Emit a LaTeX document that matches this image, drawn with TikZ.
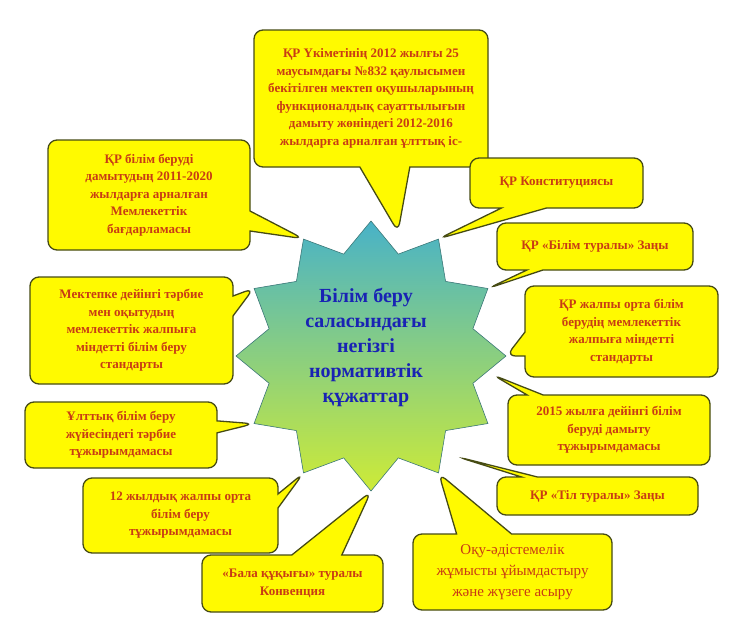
\documentclass[tikz,border=0pt]{standalone}
\usepackage{fontspec}
\setmainfont{Liberation Serif}
\usetikzlibrary{shapes.geometric, shapes.callouts}
\definecolor{boxfill}{RGB}{255,250,0}
\definecolor{boxline}{RGB}{70,75,20}
\definecolor{textred}{RGB}{200,60,20}
\definecolor{titleblue}{RGB}{25,35,180}
\definecolor{startop}{RGB}{72,178,200}
\definecolor{starmid}{RGB}{130,210,150}
\definecolor{starbottom}{RGB}{205,235,55}
\definecolor{staredge}{RGB}{60,120,120}

\begin{document}
\begin{tikzpicture}[x=1pt,y=-1pt,
box/.style={rectangle callout,draw=boxline,line width=1.3pt,fill=boxfill,rounded corners=9pt,
align=center,text=textred,font=\bfseries\fontsize{13}{17.5}\selectfont,inner sep=2pt,
callout pointer width=20pt},
main node/.style={star,star points=12,star point ratio=1.28,minimum size=270pt,inner sep=0pt,
draw=staredge,line width=0.6pt,top color=startop,middle color=starmid,bottom color=starbottom}]
\useasboundingbox (0,0) rectangle (740,638);
\node[main node] (star) at (371,356) {};
\node[text=titleblue,align=center,font=\bfseries\fontsize{20}{25}\selectfont] (title) at (366,347)
{Білім беру\\саласындағы\\негізгі\\нормативтік\\құжаттар};
\coordinate (t1) at (398,232);
\coordinate (t11) at (493,375);
\coordinate (t12) at (458,457);
\node[box,minimum width=234pt,minimum height=137pt,callout absolute pointer={(t1)},callout pointer width=50pt] (1) at (371,98.5)
{ҚР Үкіметінің 2012 жылғы 25\\маусымдағы №832 қаулысымен\\бекітілген мектеп оқушыларының\\функционалдық сауаттылығын\\дамыту жөніндегі 2012-2016\\жылдарға арналған ұлттық іс-};
\node[box,minimum width=202pt,minimum height=110pt,callout absolute pointer={(star.outer point 2)}] (2) at (149,195)
{ҚР білім беруді\\дамытудың 2011-2020\\жылдарға арналған\\Мемлекеттік\\бағдарламасы};
\node[box,minimum width=203pt,minimum height=107pt,callout absolute pointer={(star.outer point 3)}] (3) at (131.5,330.5)
{Мектепке дейінгі тәрбие\\мен оқытудың\\мемлекеттік жалпыға\\міндетті білім беру\\стандарты};
\node[box,minimum width=192pt,minimum height=66pt,callout absolute pointer={(star.outer point 5)},callout pointer width=12pt] (4) at (121,435)
{Ұлттық білім беру\\жүйесіндегі тәрбие\\тұжырымдамасы};
\node[box,minimum width=195pt,minimum height=75pt,callout absolute pointer={(star.outer point 6)},callout pointer width=14pt] (5) at (180.5,515.5)
{12 жылдық жалпы орта\\білім беру\\тұжырымдамасы};
\node[box,minimum width=181pt,minimum height=57pt,callout absolute pointer={(star.outer point 7)},callout pointer width=50pt] (6) at (292.5,583.5)
{«Бала құқығы» туралы\\Конвенция};
\node[box,minimum width=199pt,minimum height=76pt,callout absolute pointer={(star.outer point 8)},callout pointer width=55pt,
font=\fontsize{15}{21}\selectfont] (7) at (512.5,572)
{Оқу-әдістемелік\\жұмысты ұйымдастыру\\және жүзеге асыру};
\node[box,minimum width=173pt,minimum height=50pt,callout absolute pointer={(star.outer point 12)},callout pointer width=45pt] (8) at (556.5,183)
{ҚР Конституциясы};
\node[box,minimum width=196pt,minimum height=47pt,callout absolute pointer={(star.outer point 11)},callout pointer width=16pt] (9) at (595,246.5)
{ҚР «Білім туралы» Заңы};
\node[box,minimum width=193pt,minimum height=91pt,callout absolute pointer={(star.outer point 10)},callout pointer width=24pt] (10) at (621.5,331.5)
{ҚР жалпы орта білім\\берудің мемлекеттік\\жалпыға міндетті\\стандарты};
\node[box,minimum width=202pt,minimum height=70pt,callout absolute pointer={(t11)},callout pointer width=16pt] (11) at (609,430)
{2015 жылға дейінгі білім\\беруді дамыту\\тұжырымдамасы};
\node[box,minimum width=201pt,minimum height=38pt,callout absolute pointer={(t12)},callout pointer width=16pt] (12) at (597.5,496)
{ҚР «Тіл туралы» Заңы};
\end{tikzpicture}
\end{document}
